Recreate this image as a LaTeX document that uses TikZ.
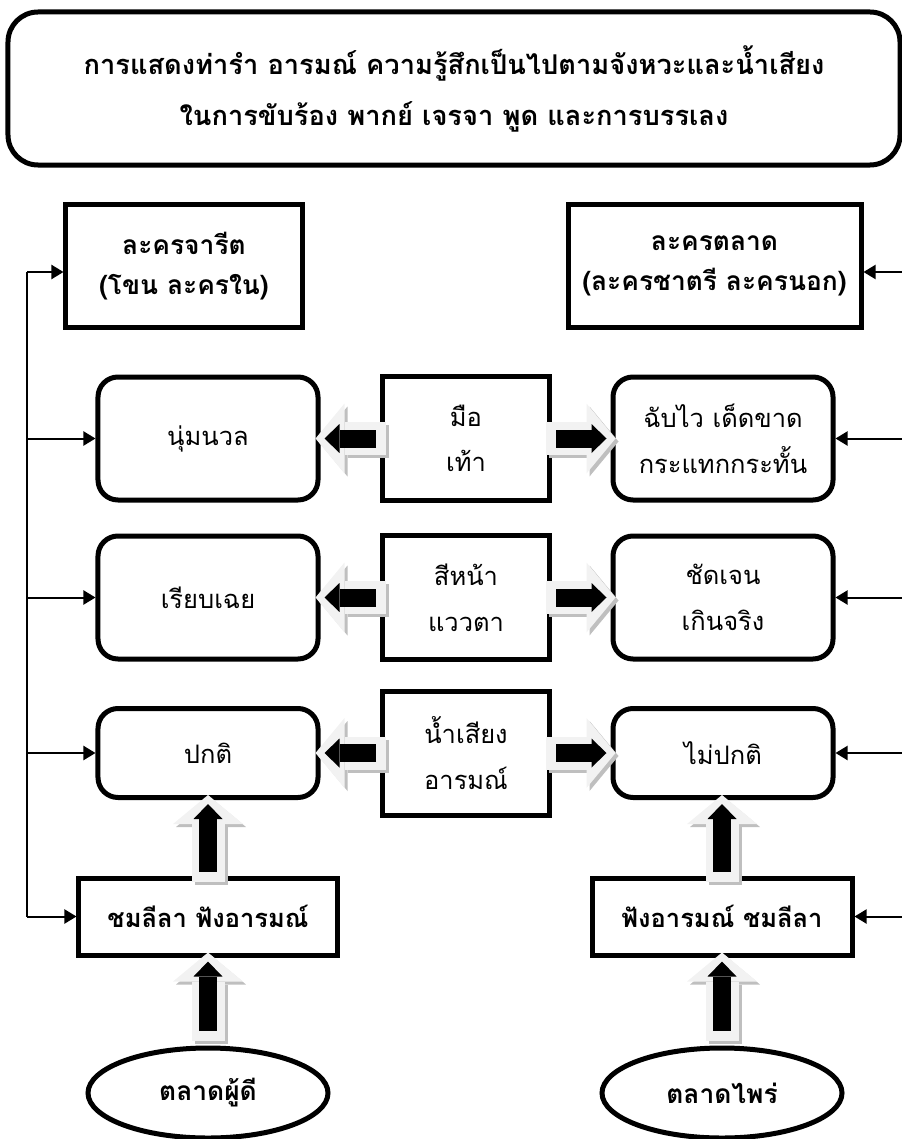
\documentclass[tikz,border=0pt]{standalone}
\usepackage{fontspec}
\setmainfont{Loma}[Script=Thai]
\usetikzlibrary{positioning,arrows.meta,shapes.geometric}

% three-layer block arrow: shadow, light body, black core
\newcommand{\fatarrow}[3][-1.2mm]{%
  \draw[fatshade,shorten <=#1] ([shift={(0.6mm,-0.6mm)}]#2) -- ([shift={(0.6mm,-0.6mm)}]#3);
  \draw[fatlight,shorten <=#1] (#2) -- (#3);
  \draw[fatcore,shorten <={#1+2mm}] (#2) -- (#3);}

\begin{document}
\begin{tikzpicture}[x=0.2mm,y=-0.2mm,
  titlebox/.style={draw,line width=1mm,rounded corners=6mm,align=center,inner sep=0pt,
    minimum width=178.4mm,minimum height=30.6mm,font=\bfseries\fontsize{15.5}{29}\selectfont},
  headbox/.style={draw,line width=1mm,align=center,inner sep=0pt,
    minimum height=24.4mm,font=\bfseries\fontsize{15}{23}\selectfont},
  rowbox/.style={draw,line width=1mm,rounded corners=4mm,align=center,inner sep=0pt,
    minimum width=44mm,minimum height=24.6mm,font=\fontsize{14.5}{26}\selectfont},
  midbox/.style={draw,line width=1mm,align=center,inner sep=0pt,
    minimum width=33.4mm,minimum height=24.8mm,font=\fontsize{14.5}{26}\selectfont},
  viewbox/.style={draw,line width=1mm,align=center,inner sep=0pt,
    minimum height=15.4mm,font=\bfseries\fontsize{14.5}{20}\selectfont},
  market/.style={draw,ellipse,line width=1mm,inner sep=0pt,
    minimum width=48mm,minimum height=18mm,font=\bfseries\fontsize{15}{20}\selectfont},
  feed/.style={line width=0.4mm,-{Triangle[length=2.4mm,width=2.8mm]}},
  fatlight/.style={line width=6.6mm,draw=black!5,shorten >=-1mm,
    -{Triangle[length=5.8mm,width=14mm,line width=0pt]}},
  fatshade/.style={fatlight,draw=black!25},
  fatcore/.style={line width=3.6mm,draw=black,shorten >=0.8mm,
    -{Triangle[length=3mm,width=5.8mm,line width=0pt]}}]
\useasboundingbox (0,0) rectangle (902,1139);

% title
\node[titlebox] (head) at (454,88.5)
  {การแสดงท่ารำ อารมณ์ ความรู้สึกเป็นไปตามจังหวะและน้ำเสียง\\ในการขับร้อง พากย์ เจรจา พูด และการบรรเลง};

% the two kinds of drama
\node[headbox,minimum width=47.2mm] (jarit) at (184,266) {ละครจารีต\\(โขน ละครใน)};
\node[headbox,minimum width=58.6mm] (talad) at (714.5,266) {ละครตลาด\\(ละครชาตรี ละครนอก)};

% rows: left result, middle feature, right result
\node[rowbox] (r1l) at (208,438.5) {นุ่มนวล};
\node[midbox] (r1m) at (466,438.5) {มือ\\เท้า};
\node[rowbox] (r1r) at (723,438.5) {ฉับไว เด็ดขาด\\กระแทกกระทั้น};

\node[rowbox] (r2l) at (208,597.5) {เรียบเฉย};
\node[midbox] (r2m) at (466,597.5) {สีหน้า\\แววตา};
\node[rowbox] (r2r) at (723,597.5) {ชัดเจน\\เกินจริง};

\node[rowbox,minimum height=17.8mm] (r3l) at (208,753) {ปกติ};
\node[midbox] (r3m) at (466,753) {น้ำเสียง\\อารมณ์};
\node[rowbox,minimum height=17.8mm] (r3r) at (723,753) {ไม่ปกติ};

% audiences and markets
\node[viewbox,minimum width=51.6mm] (chom) at (208,916.5) {ชมลีลา ฟังอารมณ์};
\node[viewbox,minimum width=52mm] (fang) at (722,916.5) {ฟังอารมณ์ ชมลีลา};
\node[market] (elL) at (208,1093) {ตลาดผู้ดี};
\node[market] (elR) at (722,1093) {ตลาดไพร่};

% left bus
\coordinate (ltop) at (27,272);
\coordinate (lbot) at (27,917);
\draw[line width=0.4mm] (ltop) -- (lbot);
\draw[feed] (ltop) -- (ltop -| jarit.west);
\foreach \n in {r1l,r2l,r3l,chom} \draw[feed] (\n.west -| ltop) -- (\n.west);

% right feeds from the page edge
\coordinate (redge) at (902,272);
\draw[feed] (redge) -- (redge -| talad.east);
\foreach \n in {r1r,r2r,r3r,fang} \draw[feed] (\n.east -| redge) -- (\n.east);

% block arrows
\foreach \m/\l/\r in {r1m/r1l/r1r,r2m/r2l/r2r,r3m/r3l/r3r} {
  \fatarrow{\m.west}{\l.east}
  \fatarrow{\m.east}{\r.west}
}
\fatarrow{chom.north}{r3l.south}
\fatarrow{fang.north}{fang.north |- r3r.south}
\fatarrow[1mm]{elL.north}{chom.south}
\fatarrow[1mm]{elR.north}{fang.south}
\end{tikzpicture}
\end{document}
